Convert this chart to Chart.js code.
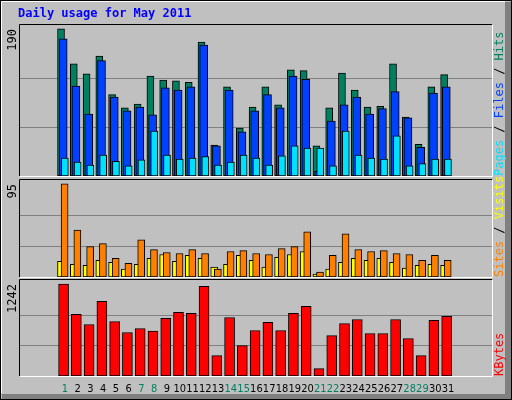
<!DOCTYPE html>
<html><head><meta charset="utf-8">
<script src="https://cdn.jsdelivr.net/npm/chart.js@4/dist/chart.umd.min.js"></script>
<style>
body{margin:0;background:#c0c0c0}
#wrap{position:relative;width:512px;height:400px}
canvas{position:absolute;left:0;top:0}
</style></head><body>
<div id="wrap">
<canvas id="c1" width="512" height="400"></canvas>
<canvas id="c2" width="512" height="400"></canvas>
<canvas id="c3" width="512" height="400"></canvas>
</div>
<script>
const days = [1,2,3,4,5,6,7,8,9,10,11,12,13,14,15,16,17,18,19,20,21,22,23,24,25,26,27,28,29,30,31];
const weekend = [1,7,8,14,15,21,22,28,29];
const hits  = [190,145,132,155,105,88,93,129,124,123,121,173,40,115,62,89,115,92,137,136,39,88,133,111,89,90,145,76,41,115,131];
const files = [177,116,80,149,102,84,89,79,114,111,115,169,39,111,57,84,105,88,129,125,6,71,92,102,80,87,109,75,37,107,115];
const pages = [23,18,14,27,19,13,21,58,27,22,23,25,14,18,27,23,14,26,39,36,36,13,58,27,23,22,52,13,16,22,22];
const sites  = [16,13,12,17,15,8,13,19,23,16,22,19,10,13,22,17,10,20,23,26,3,8,15,19,17,19,15,9,12,13,12];
const visits = [95,48,31,34,19,14,38,28,25,24,28,24,8,26,27,24,23,29,31,46,5,22,44,28,26,27,24,23,17,22,17];
const kbytes = [1242,831,695,1007,736,587,641,605,777,858,845,1210,275,790,411,614,723,614,845,939,99,546,709,763,574,574,763,506,275,750,804];
const maxLabels = ['190','95','1242'];

const W = 512;
const xMin = 0.128, xMax = 31.81;

function pts(vals, off) { return vals.map((v, i) => ({x: days[i] + off, y: v})); }

function frame(id, top, bottom, max, gridMax, label, rightParts, datasets, extra) {
  const plugin = {
    id: 'frame' + id,
    beforeDraw(chart) {
      const c = chart.ctx, a = chart.chartArea, y = chart.scales.y;
      c.save();
      if (extra) extra(chart);
      c.fillStyle = '#c0c0c0';
      c.fillRect(a.left, a.top, a.right - a.left, a.bottom - a.top);
      c.strokeStyle = '#808080'; c.lineWidth = 1;
      [1, 2].forEach(k => {
        const py = Math.round(y.getPixelForValue(gridMax * k / 3)) + 0.5;
        c.beginPath(); c.moveTo(a.left, py); c.lineTo(a.right, py); c.stroke();
      });
      c.restore();
    },
    afterDraw(chart) {
      const c = chart.ctx, a = chart.chartArea;
      c.save();
      c.lineWidth = 1;
      c.strokeStyle = '#000';
      c.beginPath(); c.moveTo(a.left - 0.5, a.bottom); c.lineTo(a.left - 0.5, a.top - 0.5); c.lineTo(a.right, a.top - 0.5); c.stroke();
      c.strokeStyle = '#fff';
      c.beginPath(); c.moveTo(a.right + 0.5, a.top); c.lineTo(a.right + 0.5, a.bottom + 0.5); c.lineTo(a.left, a.bottom + 0.5); c.stroke();
      c.font = '12px "DejaVu Sans Mono", monospace';
      c.textBaseline = 'middle';
      c.fillStyle = '#000';
      c.save(); c.translate(13, a.top + 4); c.rotate(-Math.PI / 2);
      c.textAlign = 'right'; c.fillText(label, 0, 0); c.restore();
      c.save(); c.translate(500, a.bottom); c.rotate(-Math.PI / 2);
      c.textAlign = 'left';
      let px = 0;
      rightParts.forEach(p => {
        c.fillStyle = p[1]; c.fillText(p[0], px, 0); px += c.measureText(p[0]).width;
      });
      c.restore();
      c.restore();
    }
  };
  return new Chart(document.getElementById(id), {
    type: 'bar',
    data: {datasets},
    options: {
      responsive: false, animation: false,
      layout: {padding: {left: 20, right: W - 492, top: top, bottom: 400 - bottom}},
      plugins: {legend: {display: false}, tooltip: {enabled: false}},
      datasets: {bar: {grouped: false, borderColor: '#000', borderWidth: 1, borderSkipped: false}},
      scales: {
        x: {type: 'linear', min: xMin, max: xMax, display: false},
        y: {min: 0, max: max, display: false}
      }
    },
    plugins: [plugin]
  });
}

function background(chart) {
  const c = chart.ctx;
  c.fillStyle = '#c0c0c0'; c.fillRect(0, 0, 512, 400);
  c.fillStyle = '#808080'; c.fillRect(505, 2, 6, 397); c.fillRect(2, 394, 509, 5);
  c.strokeStyle = '#000'; c.lineWidth = 1; c.strokeRect(0.5, 0.5, 511, 399);
  c.strokeStyle = '#fff'; c.beginPath(); c.moveTo(1.5, 393); c.lineTo(1.5, 1.5); c.lineTo(505, 1.5); c.stroke();
  c.font = 'bold 12px "DejaVu Sans Mono", monospace';
  c.fillStyle = '#0000ff'; c.textBaseline = 'middle'; c.textAlign = 'left';
  c.fillText('Daily usage for May 2011', 18, 14);
  c.font = '11px "DejaVu Sans Condensed", "DejaVu Sans", sans-serif';
  c.textAlign = 'center';
  const xs = chart.scales.x;
  days.forEach(d => {
    c.fillStyle = weekend.includes(d) ? '#008060' : '#000';
    c.fillText(String(d), xs.getPixelForValue(d), 389);
  });
}

frame('c1', 25, 176, 195, 190, maxLabels[0],
  [['Pages', '#00e0ff'], [' / ', '#000'], ['Files', '#0040ff'], [' / ', '#000'], ['Hits', '#008060']],
  [
    {data: pts(pages, 0), backgroundColor: '#00e0ff', barThickness: 7, order: 0},
    {data: pts(files, -0.13), backgroundColor: '#0040ff', barThickness: 8, order: 1},
    {data: pts(hits, -0.30), backgroundColor: '#008060', barThickness: 7, order: 2}
  ], background);

frame('c2', 180, 277, 99, 95, maxLabels[1],
  [['Sites', '#ff8000'], [' / ', '#000'], ['Visits', '#ffff00']],
  [
    {data: pts(visits, -0.02), backgroundColor: '#ff8000', barThickness: 7, order: 0},
    {data: pts(sites, -0.3), backgroundColor: '#ffff00', barThickness: 7, order: 1}
  ]);

frame('c3', 280, 376, 1296, 1242, maxLabels[2],
  [['KBytes', '#ff0000']],
  [
    {data: pts(kbytes, -0.1), backgroundColor: '#ff0000', barThickness: 10, order: 0}
  ]);
</script>
</body></html>
